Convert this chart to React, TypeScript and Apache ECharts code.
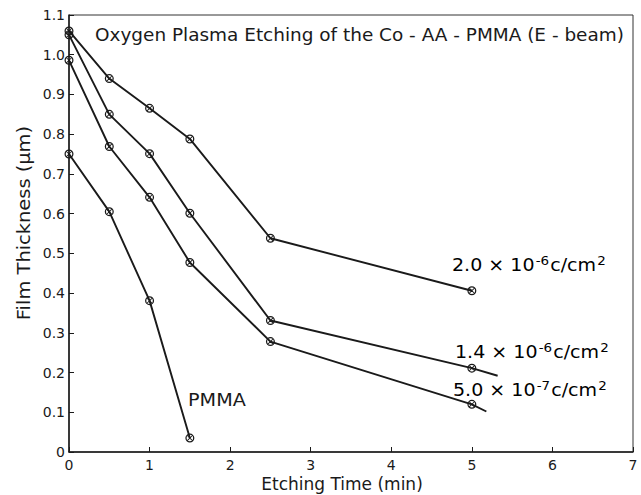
import React, { useEffect, useRef } from "react";
import * as echarts from "echarts";

const xTicks = [0, 1, 2, 3, 4, 5, 6, 7];
const dose20Time = [0, 0.5, 1, 1.5, 2.5, 5];
const dose20Thick = [1.06, 0.94, 0.865, 0.788, 0.538, 0.406];
const dose14Time = [0, 0.5, 1, 1.5, 2.5, 5, 5.32];
const dose14Thick = [1.05, 0.85, 0.751, 0.601, 0.331, 0.211, 0.192];
const dose05Time = [0, 0.5, 1, 1.5, 2.5, 5, 5.18];
const dose05Thick = [0.986, 0.769, 0.641, 0.477, 0.278, 0.12, 0.102];
const pmmaTime = [0, 0.5, 1, 1.5];
const pmmaThick = [0.75, 0.605, 0.381, 0.035];
const measuredCount = 6;

const FONT = "DejaVu Sans";
const INK = "#1a1a1a";

const MARKER =
  "path://M10,0 A10,10 0 1,1 10,20 A10,10 0 1,1 10,0 Z " +
  "M10,2.8 A7.2,7.2 0 1,0 10,17.2 A7.2,7.2 0 1,0 10,2.8 Z " +
  "M3.6,5 L5,3.6 L16.4,15 L15,16.4 Z " +
  "M15,3.6 L16.4,5 L5,16.4 L3.6,15 Z";

function buildData(t: number[], v: number[]) {
  return t.map((x, i) =>
    i < measuredCount ? [x, v[i]] : { value: [x, v[i]], symbol: "none" }
  );
}

function lineSeries(name: string, t: number[], v: number[]) {
  return {
    name,
    type: "line",
    data: buildData(t, v),
    symbol: MARKER,
    symbolSize: 9,
    lineStyle: { color: INK, width: 1.9 },
    itemStyle: { color: INK },
  };
}

const supRich = {
  n: { fontFamily: FONT, fontSize: 17, color: INK },
  s: { fontFamily: FONT, fontSize: 12, color: INK, verticalAlign: "top", padding: [0, 1, 8, 1] },
};

export default function App() {
  const ref = useRef<HTMLDivElement>(null);
  useEffect(() => {
    const chart = echarts.init(ref.current!, null, { renderer: "svg" });
    chart.setOption({
      animation: false,
      backgroundColor: "#fff",
      grid: { left: 69, right: 8, top: 15, bottom: 43, show: true, borderColor: "#333", borderWidth: 1 },
      xAxis: {
        type: "value",
        min: 0,
        max: 7,
        interval: 1,
        axisLine: { lineStyle: { color: INK, width: 1.5 } },
        axisTick: { inside: true, length: 5, lineStyle: { color: INK } },
        splitLine: { show: false },
        axisLabel: { color: INK, fontFamily: FONT, fontSize: 14, margin: 6 },
      },
      yAxis: {
        type: "value",
        min: 0,
        max: 1.1,
        interval: 0.1,
        axisLine: { show: true, lineStyle: { color: INK, width: 1.5 } },
        axisTick: { show: true, inside: true, length: 5, lineStyle: { color: INK } },
        splitLine: { show: false },
        axisLabel: {
          color: INK,
          fontFamily: FONT,
          fontSize: 14,
          margin: 4,
          formatter: (v: number) => (Math.abs(v) < 1e-9 ? "0" : v.toFixed(1)),
        },
      },
      graphic: [
        {
          type: "text",
          x: 95,
          y: 35,
          scaleX: 1.025,
          style: {
            text: "Oxygen Plasma Etching of the Co - AA - PMMA (E - beam)",
            fontFamily: FONT,
            fontSize: 18,
            fill: INK,
            verticalAlign: "middle",
          },
        },
        {
          type: "text",
          x: 342,
          y: 484,
          style: {
            text: "Etching Time (min)",
            fontFamily: FONT,
            fontSize: 17,
            fill: INK,
            align: "center",
            verticalAlign: "middle",
          },
        },
        {
          type: "text",
          x: 24,
          y: 223,
          rotation: Math.PI / 2,
          scaleX: 1.08,
          style: {
            text: "Film Thickness (μm)",
            fontFamily: FONT,
            fontSize: 18,
            fill: INK,
            align: "center",
            verticalAlign: "middle",
          },
        },
        {
          type: "text",
          x: 452,
          y: 255,
          scaleX: 1.12,
          style: { text: "{n|2.0 × 10}{s|-6}{n|c/cm}{s|2}", rich: supRich },
        },
        {
          type: "text",
          x: 455,
          y: 342,
          scaleX: 1.12,
          style: { text: "{n|1.4 × 10}{s|-6}{n|c/cm}{s|2}", rich: supRich },
        },
        {
          type: "text",
          x: 453,
          y: 380,
          scaleX: 1.12,
          style: { text: "{n|5.0 × 10}{s|-7}{n|c/cm}{s|2}", rich: supRich },
        },
        {
          type: "text",
          x: 188,
          y: 400,
          scaleX: 1.13,
          style: { text: "PMMA", fontFamily: FONT, fontSize: 17, fill: INK, verticalAlign: "middle" },
        },
      ],
      series: [
        lineSeries("2.0e-6", dose20Time, dose20Thick),
        lineSeries("1.4e-6", dose14Time, dose14Thick),
        lineSeries("5.0e-7", dose05Time, dose05Thick),
        lineSeries("PMMA", pmmaTime, pmmaThick),
      ],
    });
    return () => chart.dispose();
  }, []);
  return <div ref={ref} style={{ width: 641, height: 495, position: "absolute", left: 0, top: 0 }} />;
}
